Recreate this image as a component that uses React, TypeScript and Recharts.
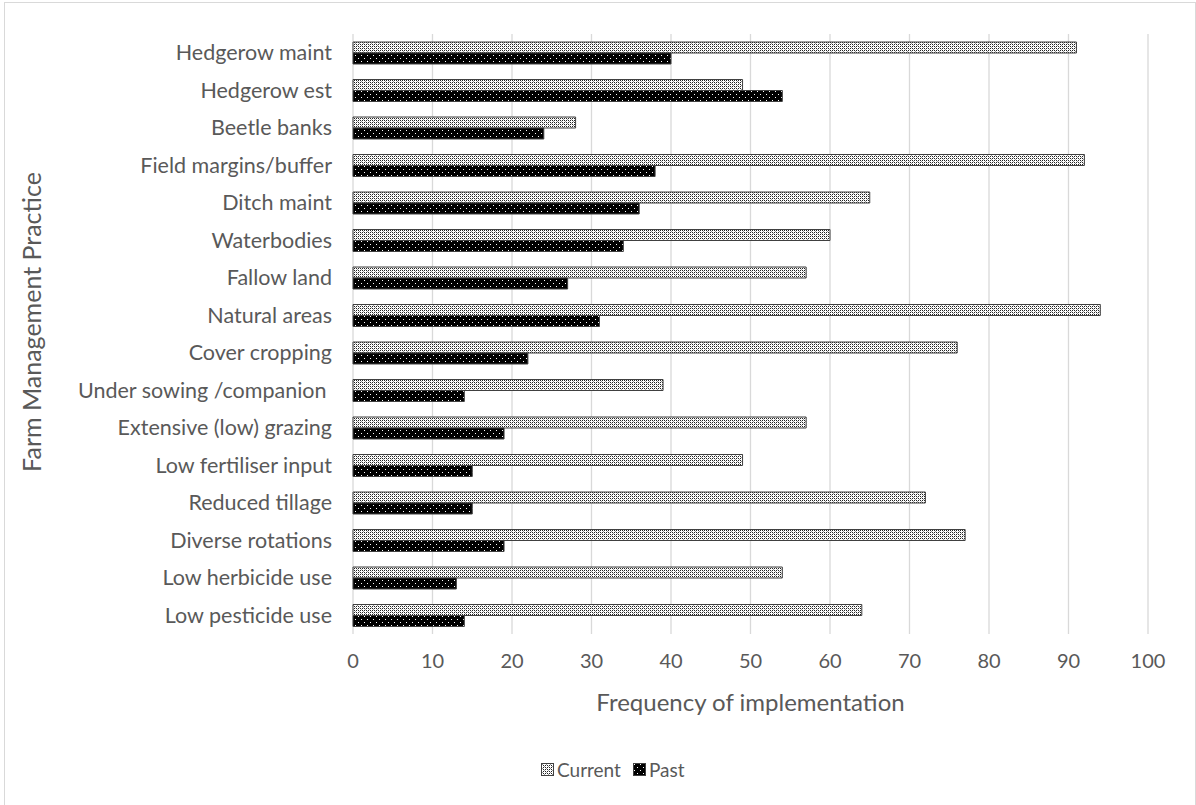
import React from "react";
import {
  BarChart,
  Bar,
  XAxis,
  YAxis,
  CartesianGrid,
} from "recharts";

const practices = [
  "Hedgerow maint",
  "Hedgerow est",
  "Beetle banks",
  "Field margins/buffer",
  "Ditch maint",
  "Waterbodies",
  "Fallow land",
  "Natural areas",
  "Cover cropping",
  "Under sowing /companion ",
  "Extensive (low) grazing",
  "Low fertiliser input",
  "Reduced tillage",
  "Diverse rotations",
  "Low herbicide use",
  "Low pesticide use",
];

const current = [91, 49, 28, 92, 65, 60, 57, 94, 76, 39, 57, 49, 72, 77, 54, 64];
const past = [40, 54, 24, 38, 36, 34, 27, 31, 22, 14, 19, 15, 15, 19, 13, 14];

const xTicks = [0, 10, 20, 30, 40, 50, 60, 70, 80, 90, 100];

const data = practices.map((name, i) => ({
  name,
  current: current[i],
  past: past[i],
}));

const FONT = "Lato, 'Open Sans', sans-serif";
const TEXT = "#595959";

const Patterns = () => (
  <defs>
    <pattern id="patCurrent" width="4" height="4" patternUnits="userSpaceOnUse">
      <rect width="4" height="4" fill="#ffffff" />
      <rect x="0" y="0" width="1" height="1" fill="#222" />
      <rect x="2" y="0" width="1" height="1" fill="#222" />
      <rect x="0" y="2" width="1" height="1" fill="#222" />
      <rect x="2" y="2" width="1" height="1" fill="#222" />
      <rect x="1" y="1" width="1" height="1" fill="#999" />
      <rect x="3" y="3" width="1" height="1" fill="#999" />
    </pattern>
    <pattern id="patPast" width="6" height="6" patternUnits="userSpaceOnUse">
      <rect width="6" height="6" fill="#000000" />
      <rect x="1" y="1" width="1" height="1" fill="#ffffff" />
      <rect x="4" y="4" width="1" height="1" fill="#ffffff" />
    </pattern>
  </defs>
);

const LegendSwatch: React.FC<{ fill: string }> = ({ fill }) => (
  <svg width={13} height={13} style={{ marginRight: 3 }}>
    <Patterns />
    <rect x={0.5} y={0.5} width={12} height={12} fill={fill} stroke="#404040" />
  </svg>
);

const CategoryTick = (props: any) => {
  const { x, y, payload } = props;
  return (
    <text
      x={x}
      y={y}
      dy="0.355em"
      textAnchor="end"
      fill={TEXT}
      fontSize={21.5}
      fontFamily={FONT}
      xmlSpace="preserve"
      style={{ whiteSpace: "pre" }}
    >
      {payload.value}
    </text>
  );
};

export default function App() {
  return (
    <div
      style={{
        position: "absolute",
        left: 0,
        top: 0,
        width: 1196,
        height: 805,
        background: "#fff",
        overflow: "hidden",
        fontFamily: FONT,
      }}
    >
      <div
        style={{
          position: "absolute",
          left: 4,
          top: 2,
          width: 1190,
          height: 820,
          border: "1px solid #d9d9d9",
        }}
      />
      <BarChart
        width={1196}
        height={805}
        data={data}
        layout="vertical"
        margin={{ top: 34, right: 48, bottom: 0, left: 0 }}
        barGap={0}
        barSize={11}
        style={{ position: "absolute", left: 0, top: 0 }}
      >
        <Patterns />
        <CartesianGrid horizontal={false} stroke="#d9d9d9" strokeWidth={1.3} />
        <XAxis
          type="number"
          domain={[0, 100]}
          ticks={xTicks}
          axisLine={false}
          tickLine={false}
          tickSize={0}
          tickMargin={20}
          tick={{ fill: TEXT, fontSize: 20, fontFamily: FONT }}
          height={171}
          label={({ viewBox }: any) => (
            <text
              x={viewBox.x + viewBox.width / 2}
              y={711}
              textAnchor="middle"
              fill={TEXT}
              fontSize={24}
              fontFamily={FONT}
            >
              Frequency of implementation
            </text>
          )}
        />
        <YAxis
          type="category"
          dataKey="name"
          width={353}
          axisLine={false}
          tickLine={false}
          tickSize={0}
          tickMargin={21}
          interval={0}
          tick={<CategoryTick />}
          label={() => (
            <text
              x={0}
              y={0}
              transform="translate(31, 322) rotate(-90)"
              textAnchor="middle"
              dominantBaseline="central"
              fill={TEXT}
              fontSize={25}
              fontFamily={FONT}
            >
              Farm Management Practice
            </text>
          )}
        />
        <Bar
          dataKey="current"
          name="Current"
          fill="url(#patCurrent)"
          stroke="#404040"
          strokeWidth={1}
          isAnimationActive={false}
        />
        <Bar
          dataKey="past"
          name="Past"
          fill="url(#patPast)"
          stroke="#404040"
          strokeWidth={1}
          isAnimationActive={false}
        />
      </BarChart>
      <div
        style={{
          position: "absolute",
          top: 758,
          left: 541,
          display: "flex",
          alignItems: "center",
          color: TEXT,
          fontSize: 19,
          fontFamily: FONT,
        }}
      >
        <span style={{ display: "flex", alignItems: "center", marginRight: 12 }}>
          <LegendSwatch fill="url(#patCurrent)" />
          Current
        </span>
        <span style={{ display: "flex", alignItems: "center" }}>
          <LegendSwatch fill="url(#patPast)" />
          Past
        </span>
      </div>
    </div>
  );
}
